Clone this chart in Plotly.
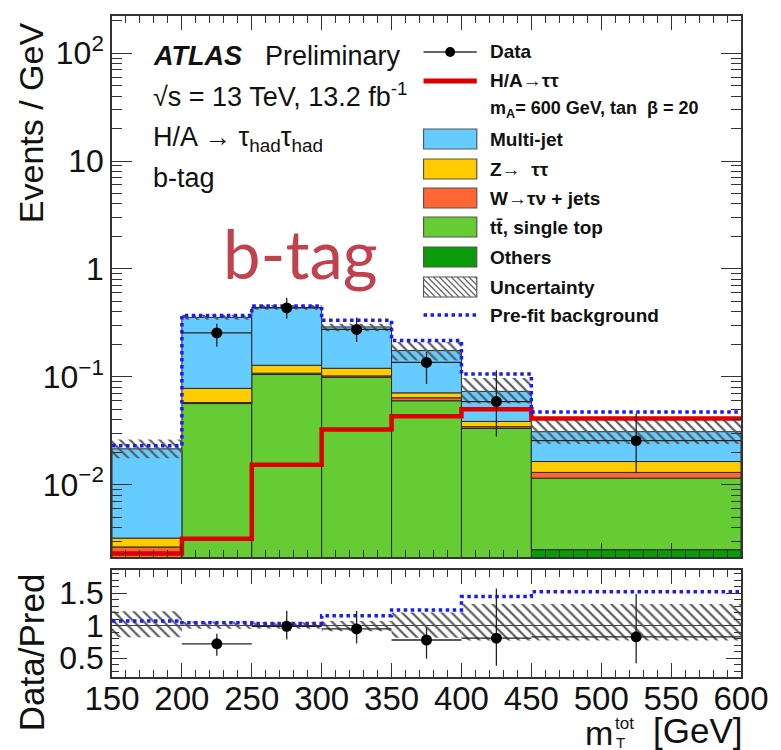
import plotly.graph_objects as go
import numpy as np

# ---------------- data ----------------
bin_edges = [150, 200, 250, 300, 350, 400, 450, 600]
others = [0.0001, 0.0002, 0.0003, 0.0003, 0.0003, 0.0002, 0.0025]
ttbar = [0.0011, 0.0563, 0.1047, 0.0987, 0.0597, 0.0330, 0.0090]
wjets = [0.00145, 0.0013, 0.0030, 0.0030, 0.0040, 0.0013, 0.0015]
ztautau = [0.00055, 0.0204, 0.0200, 0.0180, 0.0070, 0.0041, 0.0034]
multijet = [0.0183, 0.277, 0.312, 0.170, 0.104, 0.0347, 0.0146]
signal = [0.0023, 0.00315, 0.0153, 0.0325, 0.043, 0.050, 0.0411]
prefit = [0.0230, 0.370, 0.453, 0.334, 0.217, 0.106, 0.0471]
data = [None, 0.255, 0.435, 0.275, 0.136, 0.059, 0.0256]
data_err_up = [None, 0.055, 0.105, 0.080, 0.034, 0.056, 0.0204]
data_err_dn = [None, 0.065, 0.090, 0.065, 0.050, 0.031, 0.0126]
unc_rel_lo = [0.82, 0.95, 0.95, 0.91, 0.81, 0.77, 0.77]
unc_rel_hi = [1.22, 1.06, 1.05, 1.07, 1.20, 1.33, 1.33]

x_ticks = [150, 200, 250, 300, 350, 400, 450, 500, 550, 600]
y_ticks = [0.01, 0.1, 1, 10, 100]
y_ticktext = ["10<sup>−2</sup>", "10<sup>−1</sup>", "1", "10", "10<sup>2</sup>"]
r_ticks = [0.5, 1, 1.5]
r_ticktext = ["0.5", "1", "1.5"]

# ---------------- derived ----------------
edges = np.array(bin_edges, float)
centers = (edges[:-1] + edges[1:]) / 2
widths = edges[1:] - edges[:-1]
layers = [
    ("Others", others, "#0a9a0a"),
    ("ttbar", ttbar, "#66cc33"),
    ("W", wjets, "#ff6633"),
    ("Z", ztautau, "#ffcc00"),
    ("Multi-jet", multijet, "#66ccff"),
]
total = np.sum([np.array(v) for _, v, _ in layers], axis=0)

FONT = "Liberation Sans, Arial, sans-serif"
fig = go.Figure()

cum = np.zeros(len(centers))
for i, (name, vals, col) in enumerate(layers):
    vals = np.array(vals)
    kw = {} if i == 0 else {"base": cum.copy()}
    fig.add_trace(go.Bar(x=centers, y=vals, width=widths, marker=dict(color=col, line=dict(color="#2a2a2a", width=1)),
                         xaxis="x", yaxis="y", showlegend=False, **kw))
    cum = cum + vals

# uncertainty hatch (main)
lo = total * np.array(unc_rel_lo)
hi = total * np.array(unc_rel_hi)
hatch = dict(color="#555555", line=dict(width=0),
             pattern=dict(shape="\\", fillmode="replace", size=7, solidity=0.3, fgcolor="#555555"))
fig.add_trace(go.Bar(x=centers, y=hi - lo, base=lo, width=widths, marker=hatch, xaxis="x", yaxis="y", showlegend=False))

def step(vals):
    return list(edges), list(vals) + [vals[-1]]

sx, sy = step(signal)
fig.add_trace(go.Scatter(x=sx, y=sy, mode="lines", line=dict(color="#dd0000", width=4.5, shape="hv"),
                         xaxis="x", yaxis="y", showlegend=False))
px_, py_ = step(prefit)
fig.add_trace(go.Scatter(x=px_, y=py_, mode="lines", line=dict(color="#1a1aff", width=3.5, shape="hv", dash="dot"),
                         xaxis="x", yaxis="y", showlegend=False))

d = np.array([np.nan if v is None else v for v in data])
eu = np.array([0 if v is None else v for v in data_err_up])
ed = np.array([0 if v is None else v for v in data_err_dn])
fig.add_trace(go.Scatter(x=centers, y=d, mode="markers", marker=dict(color="black", size=11),
                         error_y=dict(type="data", array=eu, arrayminus=ed, color="#222", thickness=1.3, width=0),
                         error_x=dict(type="data", array=widths / 2, color="#222", thickness=1.3, width=0),
                         xaxis="x", yaxis="y", showlegend=False))

# ---------------- ratio panel ----------------
fig.add_trace(go.Bar(x=centers, y=np.array(unc_rel_hi) - np.array(unc_rel_lo), base=unc_rel_lo, width=widths,
                     marker=hatch, xaxis="x2", yaxis="y2", showlegend=False))
fig.add_trace(go.Scatter(x=[bin_edges[0], bin_edges[-1]], y=[1, 1], mode="lines", line=dict(color="#444", width=1.2),
                         xaxis="x2", yaxis="y2", showlegend=False))
rx, ry = step(list(np.array(prefit) / total))
fig.add_trace(go.Scatter(x=rx, y=ry, mode="lines", line=dict(color="#1a1aff", width=3.5, shape="hv", dash="dot"),
                         xaxis="x2", yaxis="y2", showlegend=False))
fig.add_trace(go.Scatter(x=centers, y=d / total, mode="markers", marker=dict(color="black", size=11),
                         error_y=dict(type="data", array=eu / total, arrayminus=ed / total, color="#222", thickness=1.3, width=0),
                         error_x=dict(type="data", array=widths / 2, color="#222", thickness=1.3, width=0),
                         xaxis="x2", yaxis="y2", showlegend=False))

# ---------------- layout ----------------
L, R, T, B = 112, 31, 16, 73
W, H = 781, 750
PW, PH = W - L - R, H - T - B
def fx(p): return (p - L) / PW
def fy(p): return (H - B - p) / PH

axline = dict(showline=True, linecolor="#333", linewidth=1.5, mirror="ticks", showgrid=False, zeroline=False)
minor_log = [m * 10.0 ** e for e in range(-3, 3) for m in range(2, 10)]
minor_r = [round(0.2 + 0.1 * k, 2) for k in range(17)]

fig.update_layout(
    width=W, height=H, margin=dict(l=L, r=R, t=T, b=B),
    paper_bgcolor="white", plot_bgcolor="white", barmode="overlay",
    font=dict(family=FONT, color="#111"),
    xaxis=dict(domain=[0, 1], anchor="y", range=[150, 600], showticklabels=False, tickvals=x_ticks,
               ticks="inside", ticklen=14, tickwidth=1.2, tickcolor="#333",
               minor=dict(ticks="inside", dtick=10, ticklen=7, tickwidth=1.2, tickcolor="#333"), **axline),
    yaxis=dict(domain=[fy(557), 1], anchor="x", type="log", range=[-2.67, 2.344], tickvals=y_ticks, ticktext=y_ticktext,
               ticks="inside", ticklen=20, tickwidth=1.2, tickcolor="#333", tickfont=dict(size=32, family=FONT),
               minor=dict(ticks="inside", tickvals=minor_log, ticklen=10, tickwidth=1.2, tickcolor="#333"), **axline),
    xaxis2=dict(domain=[0, 1], anchor="y2", range=[150, 600], tickvals=x_ticks, tickfont=dict(size=33, family=FONT),
                ticks="inside", ticklen=14, tickwidth=1.2, tickcolor="#333", ticklabelstandoff=-8,
                minor=dict(ticks="inside", dtick=10, ticklen=7, tickwidth=1.2, tickcolor="#333"), **axline),
    yaxis2=dict(domain=[0, fy(570)], anchor="x2", range=[0.208, 1.854], tickvals=r_ticks, ticktext=r_ticktext,
                ticks="inside", ticklen=15, tickwidth=1.2, tickcolor="#333", tickfont=dict(size=32, family=FONT),
                minor=dict(ticks="inside", tickvals=minor_r, ticklen=7, tickwidth=1.2, tickcolor="#333"), **axline),
)

ann = []
def text(x, y, s, size, xanchor="left", angle=0, color="#111", family=FONT, yanchor="middle"):
    ann.append(dict(x=fx(x), y=fy(y), xref="paper", yref="paper", text=s, showarrow=False, xanchor=xanchor,
                    yanchor=yanchor, textangle=angle, font=dict(size=size, family=family, color=color)))

# axis titles
text(30, 123, "Events / GeV", 34, xanchor="center", angle=-90)
text(30, 652, "Data/Pred", 35, xanchor="center", angle=-90)
# x title: m with stacked sub/superscript, then [GeV]
text(753, 731, "[GeV]", 35, xanchor="right")
text(622, 733, "m", 34, xanchor="right")
text(620, 723, "tot", 17, xanchor="left")
text(621, 742, "T", 15, xanchor="left")

# ATLAS labels
text(152, 56, "<b><i>ATLAS</i></b>", 27)
text(265, 56, "Preliminary", 27)
text(152, 95, "√s = 13 TeV, 13.2 fb<sup>-1</sup>", 27)
text(152, 139, "H/A → τ<sub>had</sub>τ<sub>had</sub>", 27)
text(152, 178, "b-tag", 27)
text(303, 253, "b-tag", 67, xanchor="center", color="#c1424f", family="Lato, sans-serif")

# manual legend
shapes = []
sx0, sx1, tx = 428, 482, 493
rows = {
    "Data": 52, "sig": 81, "mA": 109, "Multi-jet": 139, "Z": 169, "W": 198,
    "tt": 227, "Others": 257, "Unc": 287, "Pre": 315,
}
LF = 19
text(tx, rows["Data"], "<b>Data</b>", LF)
text(tx, rows["sig"], "<b>H/A→ττ</b>", LF)
text(tx, rows["mA"], "<b>m<sub>A</sub>= 600 GeV, tan  β = 20</b>", 18)
text(tx, rows["Multi-jet"], "<b>Multi-jet</b>", LF)
text(tx, rows["Z"], "<b>Z→  ττ</b>", LF)
text(tx, rows["W"], "<b>W→τν + jets</b>", LF)
text(tx, rows["tt"], "<b>tt̄, single top</b>", LF)
text(tx, rows["Others"], "<b>Others</b>", LF)
text(tx, rows["Unc"], "<b>Uncertainty</b>", LF)
text(tx, rows["Pre"], "<b>Pre-fit background</b>", LF)

def hline(y, color, width, dash="solid"):
    shapes.append(dict(type="line", xref="paper", yref="paper", x0=fx(sx0), x1=fx(sx1), y0=fy(y), y1=fy(y),
                       line=dict(color=color, width=width, dash=dash)))
def box(y, color):
    shapes.append(dict(type="rect", xref="paper", yref="paper", x0=fx(sx0), x1=fx(sx1), y0=fy(y - 10), y1=fy(y + 10),
                       fillcolor=color, line=dict(color="#555", width=1.2)))

hline(rows["Data"], "#333", 1.3)
shapes.append(dict(type="circle", xref="paper", yref="paper", x0=fx(455 - 5), x1=fx(455 + 5),
                   y0=fy(rows["Data"] - 5), y1=fy(rows["Data"] + 5), fillcolor="black", line=dict(color="black", width=0)))
hline(rows["sig"], "#dd0000", 5)
box(rows["Multi-jet"], "#66ccff")
box(rows["Z"], "#ffcc00")
box(rows["W"], "#ff6633")
box(rows["tt"], "#66cc33")
box(rows["Others"], "#0a9a0a")
box(rows["Unc"], "white")
yc = rows["Unc"]
segs = []
for k in range(-20, 60, 6):
    xa, ya = sx0 + k, yc - 10
    xb, yb = xa + 20, yc + 10
    if xa < sx0:
        ya += sx0 - xa; xa = sx0
    if xb > sx1:
        yb -= xb - sx1; xb = sx1
    if xa < xb and ya < yb:
        segs.append(f"M{fx(xa):.5f},{fy(ya):.5f} L{fx(xb):.5f},{fy(yb):.5f}")
shapes.append(dict(type="path", xref="paper", yref="paper", path=" ".join(segs), line=dict(color="#666", width=1.2)))
hline(rows["Pre"], "#1a1aff", 3.5, "dot")

fig.update_layout(annotations=ann, shapes=shapes)
fig.write_html("out.html")
